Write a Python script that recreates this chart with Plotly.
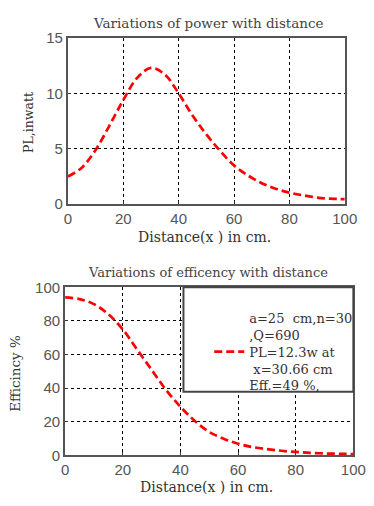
import plotly.graph_objects as go

distance = [0, 5, 10, 15, 20, 25, 30, 35, 40, 45, 50, 55, 60, 65, 70, 75, 80, 85, 90, 95, 100]
power_w = [2.5, 3.3, 4.9, 7.1, 9.4, 11.4, 12.3, 11.7, 10.0, 8.0, 6.3, 4.8, 3.5, 2.6, 1.9, 1.4, 1.05, 0.8, 0.6, 0.5, 0.45]
efficiency = [94, 93, 90, 84, 75, 63, 51, 39, 29, 20.5, 14, 10, 7, 5, 3.8, 2.8, 2.1, 1.6, 1.2, 1.0, 0.8]

x_ticks = [0, 20, 40, 60, 80, 100]
power_ticks = [0, 5, 10, 15]
eff_ticks = [0, 20, 40, 60, 80, 100]

legend_text = "a=25  cm,n=30<br>,Q=690<br>PL=12.3w at<br>&nbsp;x=30.66 cm<br>Eff.=49 %,"

W, H = 374, 506
def px(v):
    return v / W
def py(v):
    return 1 - v / H

SERIF = "DejaVu Serif"

fig = go.Figure()
red_line = dict(color="#ff0000", width=2.7, dash="8px,4px")
fig.add_trace(go.Scatter(x=distance, y=power_w, mode="lines", line=red_line,
                         line_shape="spline", showlegend=False, xaxis="x", yaxis="y"))
fig.add_trace(go.Scatter(x=distance, y=efficiency, mode="lines", line=red_line,
                         line_shape="spline", name=legend_text, showlegend=True,
                         xaxis="x2", yaxis="y2"))

tickfont = dict(family="Liberation Sans, Arial", size=15, color="#555")
axis_common = dict(showline=True, mirror=True, linecolor="#555", linewidth=2,
                   showgrid=True, gridcolor="#000", griddash="dot", gridwidth=1.2,
                   ticks="inside", ticklen=3, tickcolor="#333", zeroline=False,
                   tickfont=tickfont)

def ann(text, x, y, size, angle=0, color="#444"):
    return dict(text=text, x=px(x), y=py(y), xref="paper", yref="paper",
                xanchor="center", yanchor="middle", showarrow=False, textangle=angle,
                font=dict(family=SERIF, size=size, color=color))

fig.update_layout(
    width=W, height=H, margin=dict(l=0, r=0, t=0, b=0),
    paper_bgcolor="white", plot_bgcolor="white",
    xaxis=dict(domain=[px(67), px(357)], anchor="y", range=[0, 100], tickvals=x_ticks, **axis_common),
    yaxis=dict(domain=[py(202), py(30)], anchor="x", range=[0, 15], tickvals=power_ticks, **axis_common),
    xaxis2=dict(domain=[px(64), px(366)], anchor="y2", range=[0, 100], tickvals=x_ticks, **axis_common),
    yaxis2=dict(domain=[py(462), py(288)], anchor="x2", range=[0, 100], tickvals=eff_ticks, **axis_common),
    legend=dict(x=px(215), y=py(304), xanchor="left", yanchor="top",
                bgcolor="rgba(0,0,0,0)", borderwidth=0,
                font=dict(family=SERIF, size=13, color="#333"),
                valign="middle"),
    shapes=[dict(type="rect", xref="paper", yref="paper", x0=px(188), x1=px(366),
                 y0=py(396), y1=py(288), line=dict(color="#444", width=2),
                 fillcolor="white", layer="above")],
    annotations=[
        ann("Variations of power with distance", 214, 15, 13.5),
        ann("Variations of efficency with distance", 214, 273, 13),
        ann("Distance(x ) in cm.", 210, 236, 14, color="#333"),
        ann("Distance(x ) in cm.", 212, 495, 14, color="#333"),
        ann("PL,inwatt", 25, 117, 12.5, angle=-90, color="#333"),
        ann("Efficincy %", 12, 377, 13.5, angle=-90, color="#333"),
    ],
)

fig.write_html("out.html")
